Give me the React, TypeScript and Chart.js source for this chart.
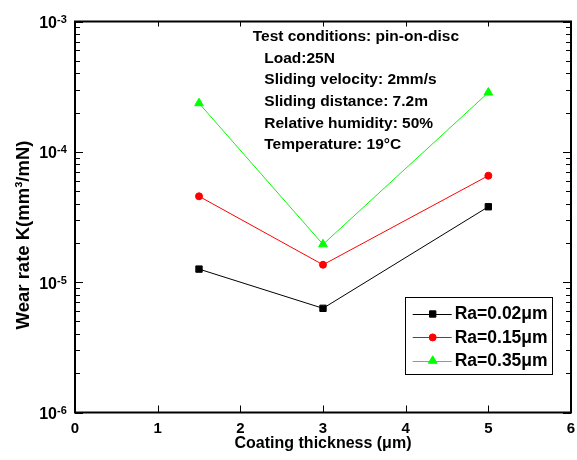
import React, { useEffect, useRef } from "react";
import { Chart, registerables } from "chart.js";

Chart.register(...registerables);

const FONT = "Arial, 'Liberation Sans', Helvetica, sans-serif";

const thickness = [1.5, 3, 5];
const ra002 = [1.26e-5, 6.3e-6, 3.79e-5];
const ra015 = [4.56e-5, 1.36e-5, 6.56e-5];
const ra035 = [2.36e-4, 1.95e-5, 2.85e-4];
const seriesLabels = ["Ra=0.02\u03bcm", "Ra=0.15\u03bcm", "Ra=0.35\u03bcm"];
const seriesColors = ["#000000", "#ff0000", "#00ff00"];
const seriesMarkers = ["rect", "circle", "triangle"];
const xTicks = [0, 1, 2, 3, 4, 5, 6];
const yDecades = [-6, -5, -4, -3];
const xTitle = "Coating thickness (\u03bcm)";
const yTitle = "Wear rate K(mm\u00b3/mN)";
const conditionLines = [
  "Test conditions: pin-on-disc",
  "Load:25N",
  "Sliding velocity: 2mm/s",
  "Sliding distance: 7.2m",
  "Relative humidity: 50%",
  "Temperature: 19\u00b0C",
];

const markerRadius: Record<string, number> = { rect: 4.5, circle: 3.5, triangle: 5 };

function drawMarker(ctx: CanvasRenderingContext2D, style: string, x: number, y: number, color: string) {
  ctx.save();
  ctx.fillStyle = color;
  ctx.strokeStyle = color;
  ctx.lineWidth = 1;
  ctx.beginPath();
  const r = markerRadius[style];
  if (style === "rect") {
    const s = r * Math.SQRT1_2;
    ctx.rect(x - s, y - s, 2 * s, 2 * s);
  } else if (style === "circle") {
    ctx.arc(x, y, r, 0, Math.PI * 2);
  } else {
    for (let i = 0; i < 3; i++) {
      const ang = -Math.PI / 2 + (i * 2 * Math.PI) / 3;
      const px = x + Math.cos(ang) * r;
      const py = y + Math.sin(ang) * r;
      if (i === 0) ctx.moveTo(px, py);
      else ctx.lineTo(px, py);
    }
    ctx.closePath();
  }
  ctx.fill();
  ctx.stroke();
  ctx.restore();
}

const decorPlugin = {
  id: "decor",
  afterDatasetsDraw(chart: any) {
    const { ctx, chartArea: a, scales } = chart;
    const xs = scales.x;
    const ys = scales.y;
    ctx.save();
    ctx.strokeStyle = "#000";
    ctx.lineWidth = 1;
    ctx.beginPath();
    xTicks.forEach((v) => {
      const px = Math.round(xs.getPixelForValue(v)) + 0.5;
      ctx.moveTo(px, a.bottom);
      ctx.lineTo(px, a.bottom - 7);
      ctx.moveTo(px, a.top);
      ctx.lineTo(px, a.top + 5);
    });
    yDecades.forEach((d) => {
      for (let m = 1; m < 10; m++) {
        const v = m * Math.pow(10, d);
        if (v > ys.max * 1.0001) break;
        const py = Math.round(ys.getPixelForValue(v)) + 0.5;
        const len = m === 1 ? 8 : 5;
        ctx.moveTo(a.left, py);
        ctx.lineTo(a.left + len, py);
        ctx.moveTo(a.right, py);
        ctx.lineTo(a.right - len, py);
      }
    });
    ctx.stroke();

    ctx.lineWidth = 2;
    ctx.strokeRect(a.left, a.top, a.right - a.left, a.bottom - a.top);

    // y tick labels with superscripts
    ctx.fillStyle = "#000";
    yDecades.forEach((d) => {
      const py = ys.getPixelForValue(Math.pow(10, d));
      ctx.font = `bold 16px ${FONT}`;
      ctx.textAlign = "right";
      ctx.textBaseline = "alphabetic";
      ctx.fillText("10", a.left - 18, py + 6.5);
      ctx.font = `bold 11px ${FONT}`;
      ctx.textAlign = "left";
      ctx.fillText(String(d), a.left - 18, py + 1.5);
    });

    // y title
    ctx.save();
    ctx.translate(23.5, (a.top + a.bottom) / 2 + 18);
    ctx.rotate(-Math.PI / 2);
    ctx.font = `bold 18.5px ${FONT}`;
    ctx.textAlign = "center";
    ctx.textBaseline = "middle";
    ctx.fillText(yTitle, 0, 0);
    ctx.restore();

    // test conditions annotation
    ctx.font = `bold 15.5px ${FONT}`;
    ctx.textAlign = "left";
    ctx.textBaseline = "middle";
    conditionLines.forEach((line, i) => {
      const x = i === 0 ? a.left + 177.7 : a.left + 189.3;
      ctx.fillText(line, x, a.top + 15.2 + i * 21.7);
    });

    // legend
    const boxRight = a.right - 19;
    const boxBottom = a.bottom - 38.5;
    const boxW = 147.3;
    const boxH = 76.6;
    const bx = boxRight - boxW;
    const by = boxBottom - boxH;
    ctx.fillStyle = "#fff";
    ctx.fillRect(bx, by, boxW, boxH);
    ctx.strokeStyle = "#000";
    ctx.lineWidth = 1;
    ctx.strokeRect(Math.round(bx) + 0.5, Math.round(by) + 0.5, Math.round(boxW), Math.round(boxH));
    chart.data.datasets.forEach((ds: any, i: number) => {
      const cy = by + 16.6 + i * 23.4;
      ctx.strokeStyle = ds.borderColor;
      ctx.lineWidth = 1;
      ctx.beginPath();
      ctx.moveTo(bx + 8, Math.round(cy) + 0.5);
      ctx.lineTo(bx + 47, Math.round(cy) + 0.5);
      ctx.stroke();
      drawMarker(ctx, ds.pointStyle, bx + 28, cy, ds.borderColor);
      ctx.fillStyle = "#000";
      ctx.font = `bold 17.5px ${FONT}`;
      ctx.textAlign = "left";
      ctx.textBaseline = "middle";
      ctx.fillText(ds.label, bx + 50, cy + 0.5);
    });
    ctx.restore();
  },
};

export default function App() {
  const canvasRef = useRef<HTMLCanvasElement | null>(null);

  useEffect(() => {
    if (!canvasRef.current) return;
    const seriesValues = [ra002, ra015, ra035];
    const datasets = seriesValues.map((vals, i) => ({
      label: seriesLabels[i],
      data: thickness.map((t, j) => ({ x: t, y: vals[j] })),
      borderColor: seriesColors[i],
      backgroundColor: seriesColors[i],
      borderWidth: 1,
      pointStyle: seriesMarkers[i],
      pointRadius: markerRadius[seriesMarkers[i]],
      pointBorderWidth: 1,
      pointBackgroundColor: seriesColors[i],
      pointBorderColor: seriesColors[i],
      tension: 0,
      fill: false,
    }));

    const chart = new Chart(canvasRef.current, {
      type: "line",
      data: { datasets },
      options: {
        animation: false,
        responsive: false,
        devicePixelRatio: 1,
        layout: { padding: { top: 21.5, right: 6, bottom: 0, left: 0 } },
        plugins: {
          legend: { display: false },
          tooltip: { enabled: false },
        },
        scales: {
          x: {
            type: "linear",
            min: 0,
            max: 6,
            afterBuildTicks: (scale: any) => {
              scale.ticks = xTicks.map((v) => ({ value: v }));
            },
            ticks: {
              font: { family: FONT, size: 15, weight: "bold" },
              color: "#000",
              padding: 7,
              maxRotation: 0,
              autoSkip: false,
            },
            grid: { display: false, drawTicks: false },
            border: { display: false },
            title: {
              display: true,
              text: xTitle,
              color: "#000",
              font: { family: FONT, size: 16, weight: "bold" },
              padding: { top: 0, bottom: 7 },
            },
            afterFit: (scale: any) => {
              scale.height = 47.5;
              scale.paddingLeft = 0;
              scale.paddingRight = 0;
            },
          },
          y: {
            type: "logarithmic",
            min: 1e-6,
            max: 1e-3,
            ticks: { display: false },
            grid: { display: false, drawTicks: false },
            border: { display: false },
            afterFit: (scale: any) => {
              scale.width = 75;
              scale.paddingTop = 0;
              scale.paddingBottom = 0;
            },
          },
        },
      },
      plugins: [decorPlugin],
    } as any);

    return () => chart.destroy();
  }, []);

  return (
    <div style={{ position: "fixed", left: 0, top: 0, width: 577, height: 460, background: "#fff" }}>
      <canvas ref={canvasRef} width={577} height={460} style={{ display: "block" }} />
    </div>
  );
}
